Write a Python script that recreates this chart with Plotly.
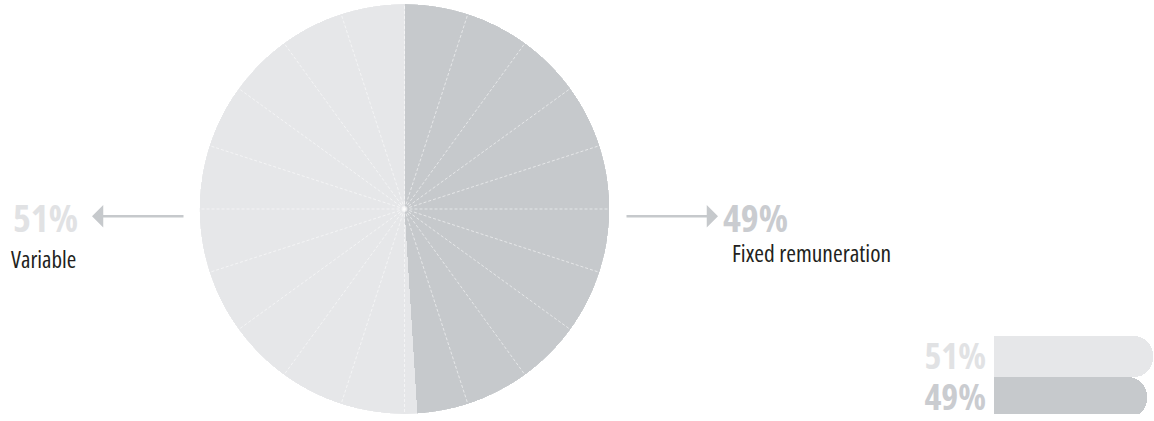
import plotly.graph_objects as go

# ---- data ----
categories = ["Fixed remuneration", "Variable"]
values = [49, 51]
pct_labels = ["49%", "51%"]
colors = ["#c6c9cc", "#e6e7e9"]
label_colors = ["#caccd0", "#e1e2e4"]

W, H = 1154, 421
FONT_NUM = "Open Sans, Liberation Sans, sans-serif"
FONT_TXT = "Open Sans, Liberation Sans, sans-serif"

fig = go.Figure()

# ---- pie as barpolar ----
total = sum(values)
start = 0.0
thetas, widths = [], []
for v in values:
    w = v / total * 360.0
    thetas.append(start + w / 2)
    widths.append(w)
    start += w

fig.add_trace(go.Barpolar(
    r=[1] * len(values), theta=thetas, width=widths,
    marker=dict(color=colors, line=dict(width=0)),
    hoverinfo="skip", showlegend=False, subplot="polar",
))
# empty overlay subplot that only carries the dashed 18-degree spokes above the pie
fig.add_trace(go.Scatterpolar(
    r=[0], theta=[0], mode="markers", marker=dict(opacity=0),
    hoverinfo="skip", showlegend=False, subplot="polar2",
))

dom = dict(x=[194 / W, 615 / W], y=[0, 1])
fig.update_layout(
    polar=dict(
        domain=dom, bgcolor="rgba(0,0,0,0)", bargap=0, hole=0,
        radialaxis=dict(visible=False, range=[0, 1]),
        angularaxis=dict(rotation=90, direction="clockwise", showticklabels=False, ticks="",
                         showline=False, showgrid=False),
    ),
    polar2=dict(
        domain=dom, bgcolor="rgba(0,0,0,0)", hole=0,
        radialaxis=dict(visible=False, range=[0, 1]),
        angularaxis=dict(
            rotation=90, direction="clockwise",
            tickmode="linear", tick0=0, dtick=18,
            showticklabels=False, ticks="", showline=False,
            showgrid=True, gridcolor="rgba(255,255,255,0.55)",
            gridwidth=1, griddash="3px,2px",
        ),
    ),
)

# ---- small horizontal bar chart (bottom right) ----
ticktext = [f'<span style="color:{c};font-stretch:condensed">{t}</span>'
            for t, c in zip(pct_labels, label_colors)]
fig.add_trace(go.Bar(
    x=values, y=pct_labels, orientation="h",
    marker=dict(color=colors, line=dict(width=0), cornerradius=19),
    width=1, hoverinfo="skip", showlegend=False,
))
fig.update_layout(
    bargap=0,
    xaxis=dict(domain=[994 / W, 1], range=[0, 51.3], visible=False, fixedrange=True),
    yaxis=dict(
        domain=[0, 80 / H], range=[-0.405, 1.5], type="category",
        categoryorder="array", categoryarray=pct_labels,
        tickvals=pct_labels, ticktext=ticktext,
        showgrid=False, zeroline=False, showline=False, ticks="",
        ticklabelstandoff=7,
        tickfont=dict(family=FONT_NUM, size=36, color="#d5d7d9", weight="bold"),
    ),
)


def condensed(t):
    return f'<span style="font-stretch:condensed">{t}</span>'


# ---- pie labels and arrows ----
arrow_col = "#c6c9cc"
annotations = [
    dict(x=11 / W, y=(H - 219) / H, text="<b>" + condensed(pct_labels[1]) + "</b>", xanchor="left",
         yanchor="middle", font=dict(family=FONT_NUM, size=38, color=label_colors[1])),
    dict(x=9 / W, y=(H - 262) / H, text=condensed(categories[1]), xanchor="left", yanchor="middle",
         font=dict(family=FONT_TXT, size=23, color="#231f20")),
    dict(x=721 / W, y=(H - 219) / H, text="<b>" + condensed(pct_labels[0]) + "</b>", xanchor="left",
         yanchor="middle", font=dict(family=FONT_NUM, size=38, color=label_colors[0])),
    dict(x=730 / W, y=(H - 256) / H, text=condensed(categories[0]), xanchor="left", yanchor="middle",
         font=dict(family=FONT_TXT, size=23.5, color="#231f20")),
    # arrows (offsets in pixels)
    dict(x=92 / W, y=(H - 218) / H, ax=93, ay=0,
         text="", showarrow=True, arrowhead=1, arrowsize=1.5, arrowwidth=2.5, arrowcolor=arrow_col),
    dict(x=718 / W, y=(H - 218) / H, ax=-93, ay=0,
         text="", showarrow=True, arrowhead=1, arrowsize=1.5, arrowwidth=2.5, arrowcolor=arrow_col),
]
for a in annotations:
    a.setdefault("xref", "paper")
    a.setdefault("yref", "paper")
    a.setdefault("showarrow", False)

fig.update_layout(
    annotations=annotations,
    width=W, height=H,
    margin=dict(l=0, r=0, t=0, b=0),
    paper_bgcolor="white", plot_bgcolor="rgba(0,0,0,0)",
    showlegend=False,
)

fig.write_html(
    "out.html",
    config={"displayModeBar": False},
    post_script="document.body.style.margin='0';document.body.style.overflow='hidden';",
)
